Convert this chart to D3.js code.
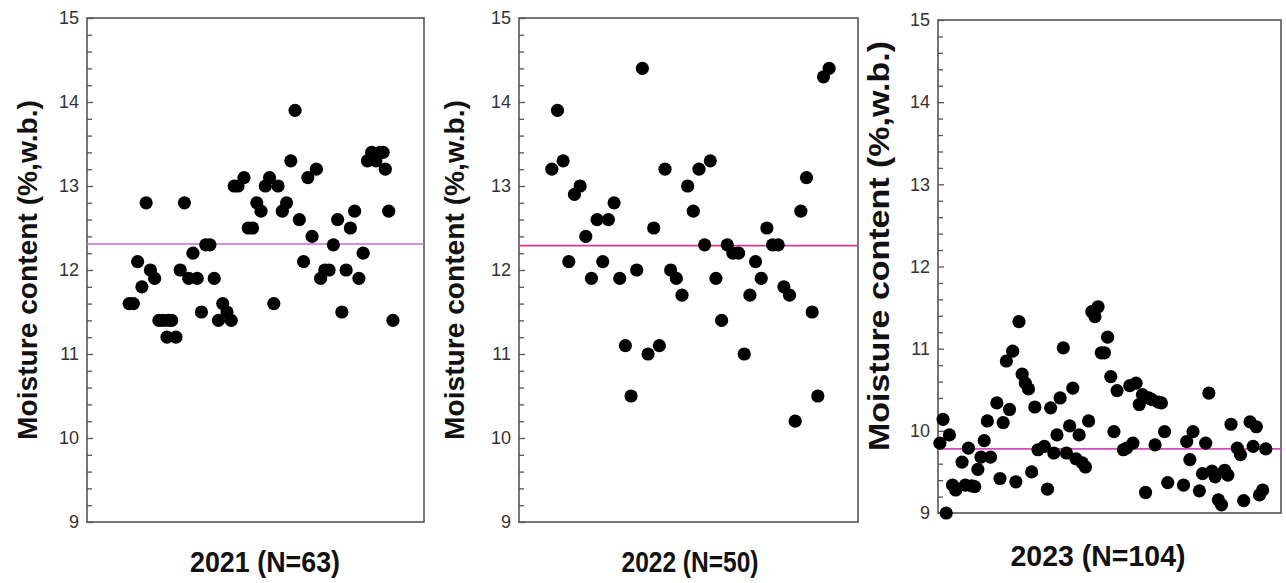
<!DOCTYPE html>
<html>
<head>
<meta charset="utf-8">
<script src="https://cdn.jsdelivr.net/npm/d3@7"></script>
<style>
  body { margin: 0; background: #fff; }
  text { font-family: "Liberation Sans", Arial, sans-serif; }
</style>
</head>
<body>
<div id="chart"></div>
<script>
// data: sample position, moisture content (%, w.b.)

var x2021 = [1, 2, 3, 4, 5, 6, 7, 8, 9, 9.9, 10.2, 11, 12, 13, 14, 15, 16, 17, 18, 19, 20, 21, 22, 23, 24, 25,
             25.7, 26.6, 28, 29, 30, 31, 32, 33, 34, 35, 36, 37, 38, 39, 40, 41, 42, 43, 44, 45, 46, 47, 48,
             49, 50, 51, 52, 53, 54, 55, 56, 57, 58, 59, 60, 60.7, 61.2, 62, 63];
var y2021 = [11.6, 11.6, 12.1, 11.8, 12.8, 12.0, 11.9, 11.4, 11.4, 11.2, 11.4, 11.4, 11.2, 12.0, 12.8, 11.9, 12.2,
             11.9, 11.5, 12.3, 12.3, 11.9, 11.4, 11.6, 11.5, 11.4, 13.0, 13.0, 13.1, 12.5, 12.5, 12.8, 12.7,
             13.0, 13.1, 11.6, 13.0, 12.7, 12.8, 13.3, 13.9, 12.6, 12.1, 13.1, 12.4, 13.2, 11.9, 12.0, 12.0,
             12.3, 12.6, 11.5, 12.0, 12.5, 12.7, 11.9, 12.2, 13.3, 13.4, 13.3, 13.4, 13.4, 13.2, 12.7, 11.4];

var y2022 = [13.2, 13.9, 13.3, 12.1, 12.9, 13.0, 12.4, 11.9, 12.6, 12.1, 12.6, 12.8, 11.9, 11.1, 10.5, 12.0, 14.4,
             11.0, 12.5, 11.1, 13.2, 12.0, 11.9, 11.7, 13.0, 12.7, 13.2, 12.3, 13.3, 11.9, 11.4, 12.3, 12.2, 12.2,
             11.0, 11.7, 12.1, 11.9, 12.5, 12.3, 12.3, 11.8, 11.7, 10.2, 12.7, 13.1, 11.5, 10.5, 14.3, 14.4];
var x2022 = y2022.map(function (d, i) { return i + 1; });

var x2023 = [1, 2, 3, 4, 5, 6, 8, 9, 10, 11, 12, 13, 14, 15, 16, 17, 19, 20, 21, 22, 23, 24, 25, 26, 27, 28, 29,
             30, 31, 32, 34, 35, 36, 37, 38, 39, 40, 41, 42, 43, 44, 45, 46, 47, 48, 49, 50, 51, 52, 53, 54, 55,
             56, 57, 59, 60, 61, 62, 63, 64, 65, 66, 67, 68, 69, 70, 71, 72, 73, 78, 79, 80, 81, 83, 84, 85, 86,
             87, 88, 89, 90, 91, 92, 93, 95, 96, 97, 99, 100, 101, 102, 103, 104];
var y2023 = [9.85, 10.14, 9.00, 9.95, 9.34, 9.28, 9.62, 9.34, 9.79, 9.33, 9.32, 9.53, 9.68, 9.88, 10.12, 9.68,
             10.34, 9.42, 10.10, 10.85, 10.26, 10.97, 9.38, 11.33, 10.69, 10.58, 10.51, 9.50, 10.29, 9.77, 9.81,
             9.29, 10.28, 9.73, 9.95, 10.40, 11.01, 9.73, 10.06, 10.52, 9.66, 9.95, 9.61, 9.56, 10.12, 11.45,
             11.39, 11.51, 10.95, 10.95, 11.14, 10.66, 9.99, 10.49, 9.77, 9.79, 10.55, 9.85, 10.58, 10.32, 10.44,
             9.25, 10.40, 10.38, 9.83, 10.35, 10.34, 9.99, 9.37, 9.34, 9.87, 9.65, 9.99, 9.27, 9.48, 9.85, 10.46,
             9.51, 9.44, 9.16, 9.10, 9.52, 9.46, 10.08, 9.79, 9.71, 9.15, 10.11, 9.81, 10.05, 9.22, 9.28, 9.78];

var means = [12.31, 12.29, 9.78];
var titles = ["2021 (N=63)", "2022 (N=50)", "2023 (N=104)"];
var yTicks = [9, 10, 11, 12, 13, 14, 15];
var yLabel = "Moisture content (%,w.b.)";

// layout of the three panels
var panels = [
    {xs: x2021, ys: y2021, left: 87, right: 424, top: 18, bottom: 522, xDom: [-8.9, 70.3], meanColor: "#c86ad2",
     titleX: 265, titleY: 572, titleLen: 150, labelX: 28, labelY: 270, labelLen: 340, labelSize: 27},
    {xs: x2022, ys: y2022, left: 519, right: 858, top: 18, bottom: 522, xDom: [-4.8, 55.1], meanColor: "#d23c98",
     titleX: 690, titleY: 572, titleLen: 137, labelX: 455, labelY: 270, labelLen: 340, labelSize: 27},
    {xs: x2023, ys: y2023, left: 938, right: 1281, top: 20, bottom: 513, xDom: [0.4, 108.8], meanColor: "#dc46c0",
     titleX: 1098, titleY: 566, titleLen: 175, labelX: 878, labelY: 246, labelLen: 410, labelSize: 30}
];

var svg = d3.select("#chart").append("svg")
    .attr("width", 1286)
    .attr("height", 583);

panels.forEach(function (p, k) {
    var x = d3.scaleLinear().domain(p.xDom).range([p.left, p.right]);
    var y = d3.scaleLinear().domain([9, 15]).range([p.bottom, p.top]);
    var g = svg.append("g");

    // frame
    g.append("rect")
        .attr("x", p.left).attr("y", p.top)
        .attr("width", p.right - p.left).attr("height", p.bottom - p.top)
        .attr("fill", "none")
        .attr("stroke", "#555")
        .attr("stroke-width", 1.6);

    // minor ticks, inward
    var minors = d3.range(9, 15.001, 0.2).filter(function (v) { return Math.abs(v - Math.round(v)) > 0.01; });
    var minorAxis = d3.axisLeft(y).tickValues(minors).tickSize(-5).tickFormat("");
    var gm = g.append("g").attr("transform", "translate(" + p.left + ",0)").call(minorAxis);
    gm.select(".domain").remove();
    gm.selectAll("line").attr("stroke", "#555").attr("stroke-width", 1.3);

    // major ticks and labels
    var majorAxis = d3.axisLeft(y).tickValues(yTicks).tickFormat(d3.format("d"))
        .tickSizeInner(-6).tickSizeOuter(0).tickPadding(8);
    var ga = g.append("g").attr("transform", "translate(" + p.left + ",0)").call(majorAxis);
    ga.select(".domain").remove();
    ga.selectAll("line").attr("stroke", "#555").attr("stroke-width", 1.3);
    ga.selectAll("text")
        .attr("font-size", 18)
        .attr("fill", "#333")
        .style("font-family", "'Liberation Sans', Arial, sans-serif");

    // mean line
    g.append("line")
        .attr("x1", p.left).attr("x2", p.right)
        .attr("y1", y(means[k])).attr("y2", y(means[k]))
        .attr("stroke", p.meanColor)
        .attr("stroke-width", 1.6);

    // points
    g.selectAll("circle")
        .data(p.ys.map(function (v, i) { return [p.xs[i], v]; }))
        .enter().append("circle")
        .attr("cx", function (d) { return x(d[0]); })
        .attr("cy", function (d) { return y(d[1]); })
        .attr("r", 6.6)
        .attr("fill", "#000");

    // y title
    g.append("text")
        .attr("transform", "translate(" + p.labelX + "," + p.labelY + ") rotate(-90)")
        .attr("text-anchor", "middle")
        .attr("dominant-baseline", "central")
        .attr("font-size", p.labelSize)
        .attr("font-weight", "bold")
        .attr("textLength", p.labelLen)
        .attr("lengthAdjust", "spacingAndGlyphs")
        .attr("fill", "#111")
        .text(yLabel);

    // panel title
    g.append("text")
        .attr("x", p.titleX)
        .attr("y", p.titleY)
        .attr("text-anchor", "middle")
        .attr("font-size", 30)
        .attr("font-weight", "bold")
        .attr("textLength", p.titleLen)
        .attr("lengthAdjust", "spacingAndGlyphs")
        .attr("fill", "#111")
        .text(titles[k]);
});
</script>
</body>
</html>
